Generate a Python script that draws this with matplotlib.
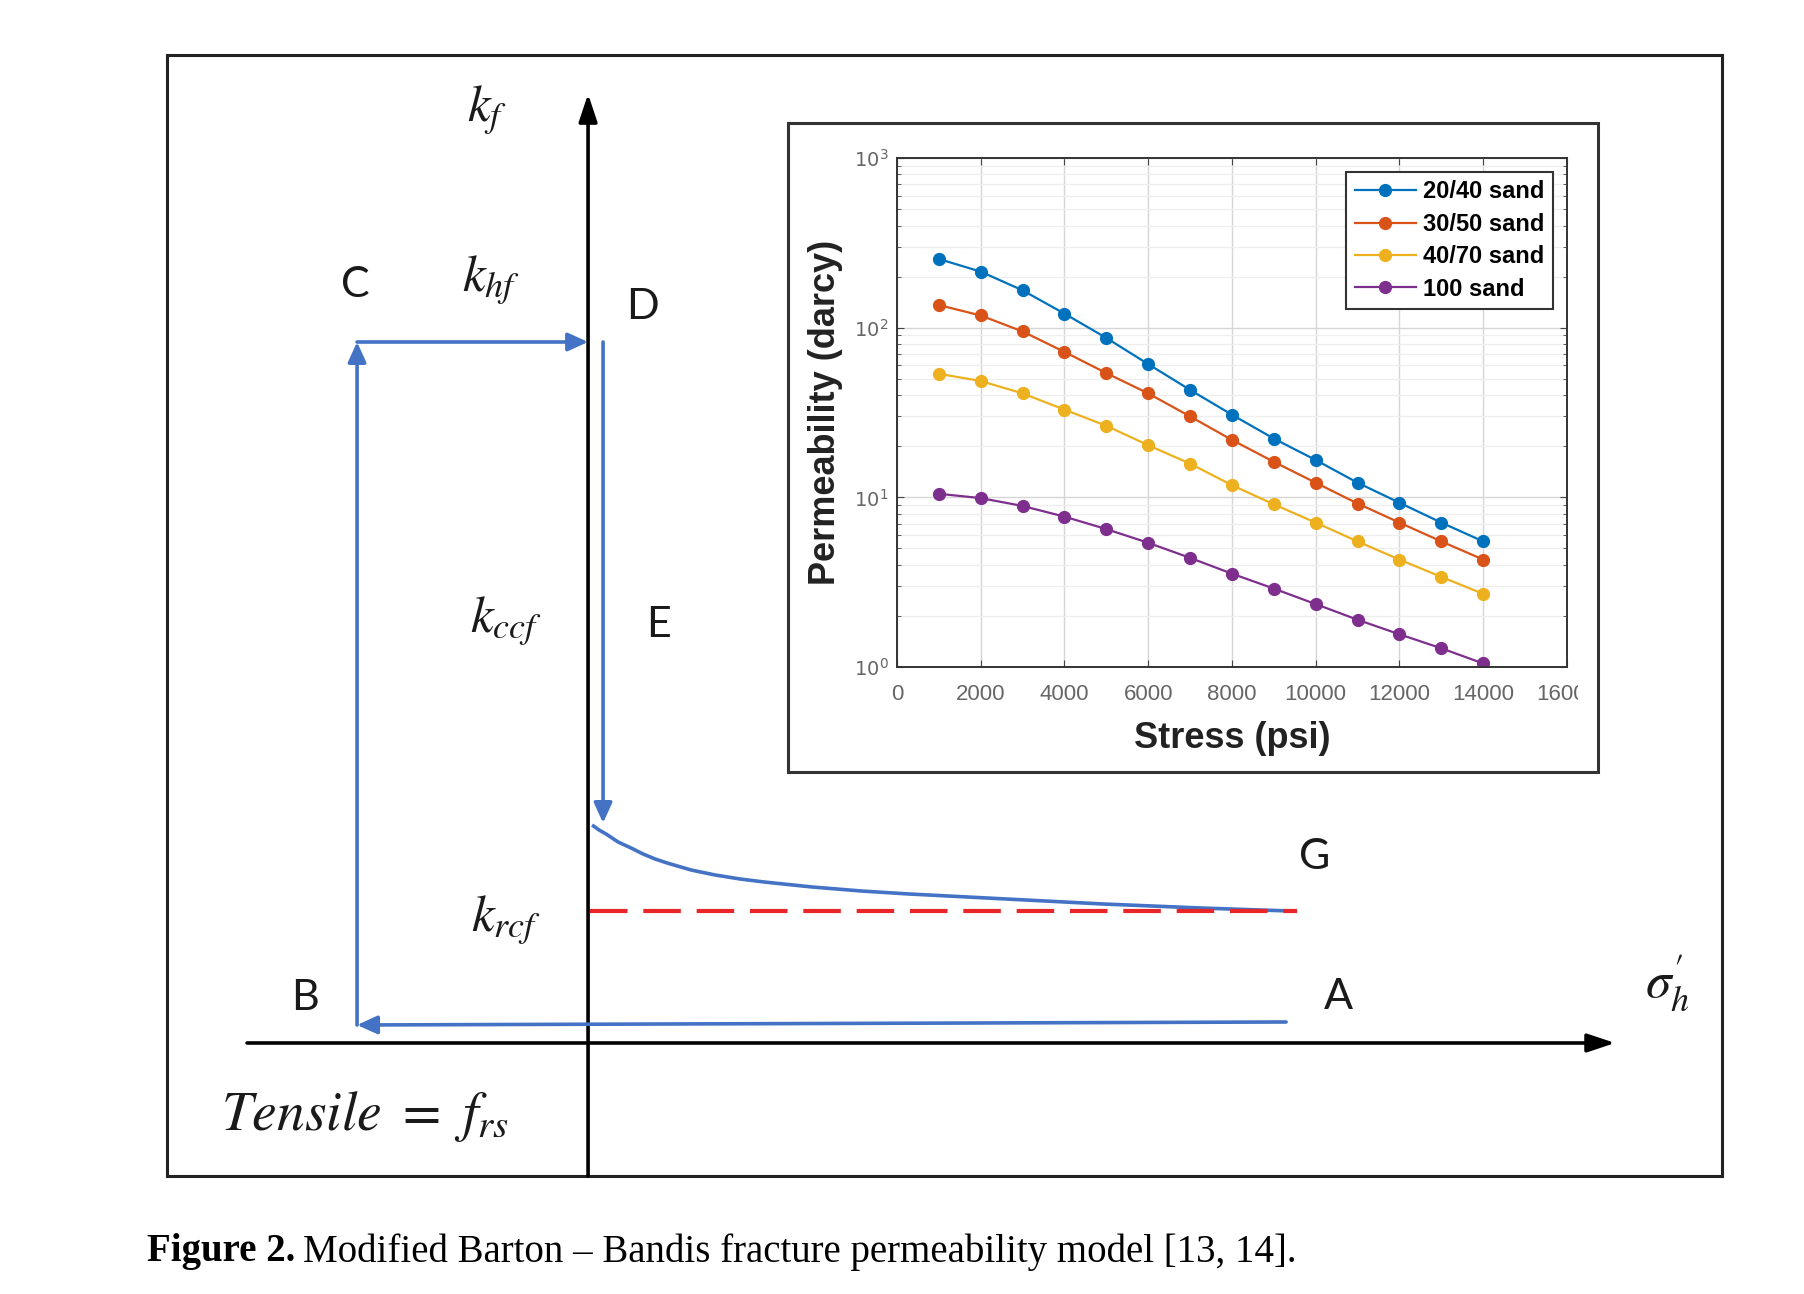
import matplotlib
matplotlib.use("Agg")
import matplotlib.pyplot as plt
from matplotlib.patches import Rectangle
from matplotlib.ticker import LogLocator, NullFormatter

# inset data: permeability (darcy) vs closure stress (psi)
stress = [1000, 2000, 3000, 4000, 5000, 6000, 7000, 8000, 9000, 10000, 11000, 12000, 13000, 14000]
sand_20_40 = [254, 214, 166, 121, 87, 61, 43, 30.7, 22.2, 16.6, 12.2, 9.3, 7.1, 5.5]
sand_30_50 = [136, 118, 95, 72, 54, 41, 30, 21.8, 16.2, 12.2, 9.2, 7.1, 5.5, 4.3]
sand_40_70 = [53.5, 48.5, 41, 32.9, 26.4, 20.3, 15.8, 11.8, 9.1, 7.1, 5.5, 4.3, 3.4, 2.7]
sand_100 = [10.5, 9.9, 8.9, 7.7, 6.5, 5.4, 4.4, 3.55, 2.9, 2.35, 1.9, 1.56, 1.29, 1.05]
series_names = ["20/40 sand", "30/50 sand", "40/70 sand", "100 sand"]
series_colors = ["#0072BD", "#D95319", "#EDB120", "#7E2F8E"]

# schematic (origin = axis crossing), path A -> B -> C -> D
loop_x = [6.98, -2.31, -2.31, 0.0]
loop_y = [0.21, 0.18, 7.01, 7.01]
# unloading D -> E
unload_x = [0.15, 0.15]
unload_y = [7.01, 2.20]
# decay curve E -> G
decay_x = [0.04, 0.11, 0.18, 0.30, 0.43, 0.55, 0.67, 0.79, 1.03, 1.27, 1.52, 1.76,
           2.24, 2.73, 3.21, 4.18, 5.15, 6.12, 7.02]
decay_y = [2.18, 2.13, 2.09, 2.01, 1.95, 1.89, 1.84, 1.80, 1.73, 1.68, 1.64, 1.61,
           1.56, 1.52, 1.49, 1.44, 1.39, 1.35, 1.32]
krcf_level = 1.32
krcf_x = [0.02, 7.09]

math_labels = [(r"$k_f$", -1.01, 9.33, 37), (r"$k_{hf}$", -0.97, 7.63, 37),
               (r"$k_{ccf}$", -0.82, 4.22, 37), (r"$k_{rcf}$", -0.82, 1.23, 37),
               (r"$\sigma^{\prime}_{h}$", 10.79, 0.60, 37),
               (r"$Tensile\ =\ f_{rs}$", -2.23, -0.74, 40)]
point_labels = [("C", -2.33, 7.58), ("D", 0.54, 7.36), ("E", 0.70, 4.18),
                ("G", 7.27, 1.86), ("B", -2.83, 0.45), ("A", 7.50, 0.46)]

blue = "#4472C4"

fig = plt.figure(figsize=(18.04, 12.94), dpi=100)
ax = fig.add_axes([0.0926, 0.0912, 0.8620, 0.8663])
ax.set_xlim(-4.21, 11.34)
ax.set_ylim(-1.33, 9.88)
ax.set_xticks([])
ax.set_yticks([])
for s in ax.spines.values():
    s.set_linewidth(2.2)
    s.set_color("#222222")

# axes of the schematic
ax.annotate("", xy=(0, 9.49), xytext=(0, -1.33),
            arrowprops=dict(arrowstyle="-|>,head_length=0.6,head_width=0.2", mutation_scale=28,
                            lw=2.6, color="black", shrinkA=0, shrinkB=0))
ax.annotate("", xy=(10.27, 0), xytext=(-3.41, 0),
            arrowprops=dict(arrowstyle="-|>,head_length=0.6,head_width=0.2", mutation_scale=28,
                            lw=2.6, color="black", shrinkA=0, shrinkB=0))

# blue loading / unloading path
barrow = dict(arrowstyle="-|>,head_length=0.55,head_width=0.25", mutation_scale=22,
              lw=2.6, color=blue, shrinkA=0, shrinkB=0)
for i in range(len(loop_x) - 1):
    ax.annotate("", xy=(loop_x[i + 1], loop_y[i + 1]), xytext=(loop_x[i], loop_y[i]),
                arrowprops=barrow)
ax.annotate("", xy=(unload_x[1], unload_y[1]), xytext=(unload_x[0], unload_y[0]),
            arrowprops=barrow)
ax.plot(decay_x, decay_y, color=blue, lw=2.6, solid_capstyle="butt", solid_joinstyle="round")
ax.plot(krcf_x, [krcf_level, krcf_level], color="#E8262A", lw=3.0, dashes=(9, 3.8))

for txt, x, y, fs in math_labels:
    ax.text(x, y, txt, fontsize=fs, ha="center", va="center", math_fontfamily="stix",
            color="#1a1a1a")
for txt, x, y in point_labels:
    ax.text(x, y, txt, fontsize=31, ha="center", va="center", family="Lato", color="#1a1a1a")

# inset frame
frame = Rectangle((2.00, 2.71), 8.10, 6.49, facecolor="white", edgecolor="#333333",
                  lw=2.2, zorder=5)
ax.add_patch(frame)
# the source picture of the inset is cut a bit before its frame
cut = Rectangle((2.00, 2.71), 7.90, 6.49, facecolor="none", edgecolor="none")
ax.add_patch(cut)

ins = fig.add_axes([0.4972, 0.4845, 0.3714, 0.3934])
ins.set_zorder(10)
for name, vals, c in zip(series_names, [sand_20_40, sand_30_50, sand_40_70, sand_100], series_colors):
    ins.plot(stress, vals, "-o", color=c, lw=1.6, ms=8.5, label=name)
ins.set_yscale("log")
ins.set_ylim(1, 1000)
ins.set_xlim(0, 16000)
ins.set_xticks(range(0, 16001, 2000))
ins.yaxis.set_minor_locator(LogLocator(base=10, subs=range(2, 10)))
ins.yaxis.set_minor_formatter(NullFormatter())
ins.grid(True, which="major", color="#d6d6d6", lw=1.0)
ins.grid(True, which="minor", axis="y", color="#eeeeee", lw=0.9)
ins.set_axisbelow(True)
ins.tick_params(which="both", direction="in", top=True, right=True, colors="#444444",
                labelcolor="#666666", length=5)
ins.tick_params(which="minor", length=3)
ins.tick_params(axis="x", labelsize=16, pad=12)
ins.tick_params(axis="y", labelsize=14, pad=6)
for lbl in ins.get_xticklabels():
    lbl.set_family("Liberation Sans")
for s in ins.spines.values():
    s.set_color("#333333")
    s.set_linewidth(1.4)
ins.set_xlabel("Stress (psi)", fontsize=26, fontweight="bold", family="Liberation Sans",
               labelpad=12, color="#222222")
ins.set_ylabel("Permeability (darcy)", fontsize=26, fontweight="bold", family="Liberation Sans",
               labelpad=8, color="#222222")
leg = ins.legend(loc="upper right", prop=dict(family="Liberation Sans", weight="bold", size=17),
                 handlelength=2.6, labelspacing=0.4, borderpad=0.35, fancybox=False,
                 framealpha=1, edgecolor="#333333", handletextpad=0.3, borderaxespad=0.6)
leg.get_frame().set_linewidth(1.5)

# clip tick labels running past the cut edge (the truncated "160")
for t in ins.xaxis.get_major_ticks():
    t.label1.set_clip_on(True)
    t.label1.set_clip_path(cut)

# caption
renderer = fig.canvas.get_renderer()
t1 = fig.text(0.0815, 0.0325, "Figure 2.", fontsize=28, fontweight="bold",
              family="Liberation Serif", va="center")
bb = t1.get_window_extent(renderer=renderer)
fig.text(bb.x1 / fig.bbox.width + 0.004, 0.0325,
         "Modified Barton \u2013 Bandis fracture permeability model [13, 14].",
         fontsize=28, family="Liberation Serif", va="center")

fig.savefig("out.png", dpi=100)
